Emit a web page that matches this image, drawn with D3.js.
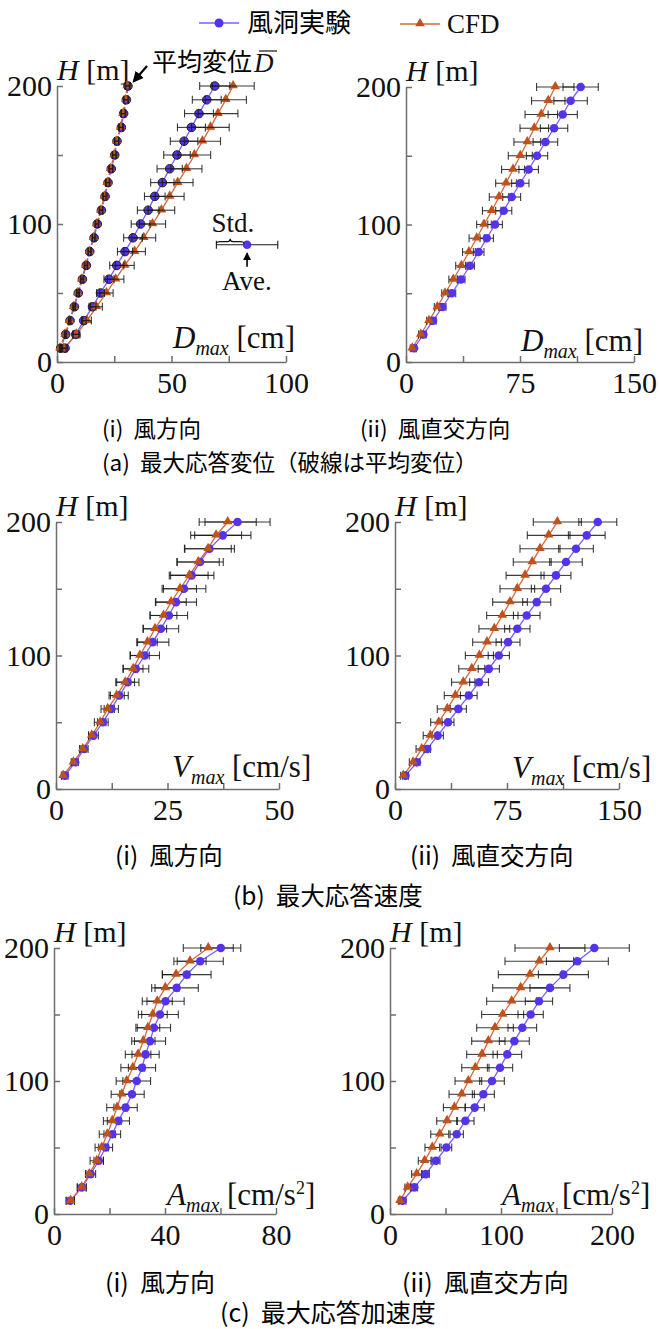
<!DOCTYPE html>
<html>
<head>
<meta charset="utf-8">
<script src="https://cdn.jsdelivr.net/npm/d3@7/dist/d3.min.js"></script>
<style>
  body { margin: 0; background: #fff; }
  svg { display: block; }
</style>
</head>
<body>
<svg id="chart" width="660" height="1329"></svg>
<script>
// heights [m]
const heights = [10, 20, 30, 40, 50, 60, 70, 80, 90, 100, 110, 120, 130, 140, 150, 160, 170, 180, 190, 200];

// (a)(i) along-wind displacement [cm]
const dispAlongMaxWind    = [3.5, 8.2, 11.7, 15.5, 19.0, 22.7, 26.1, 29.7, 33.2, 36.5, 39.8, 42.7, 46.0, 49.2, 52.4, 55.5, 58.7, 62.0, 65.4, 68.9];
const dispAlongMaxWindSd  = [1.0, 1.3, 1.0, 1.5, 1.7, 2.2, 3.1, 3.3, 4.1, 4.1, 4.7, 4.5, 5.1, 5.5, 5.8, 6.0, 6.1, 6.3, 6.3, 6.6];
const dispAlongMaxCfd     = [3.0, 8.5, 13.1, 17.2, 21.6, 25.6, 29.6, 33.9, 37.9, 41.7, 45.6, 49.2, 52.7, 56.5, 60.0, 63.5, 67.0, 70.3, 73.7, 76.9];
const dispAlongMaxCfdSd   = [1.0, 1.5, 1.9, 2.6, 2.9, 3.6, 4.1, 4.7, 5.2, 5.7, 5.8, 6.3, 6.7, 6.8, 7.1, 7.9, 8.2, 8.7, 9.0, 9.2];
const dispAlongMeanWind   = [1.6, 3.8, 5.7, 7.6, 9.3, 11.1, 12.8, 14.3, 16.2, 17.6, 19.4, 21.0, 22.3, 23.7, 25.2, 26.2, 28.1, 29.1, 30.3, 31.0];
const dispAlongMeanWindSd = [0.3, 0.4, 0.4, 0.5, 0.5, 0.6, 0.6, 0.6, 0.7, 0.7, 0.7, 0.8, 0.8, 0.8, 0.9, 0.9, 0.9, 1.0, 1.0, 1.0];
const dispAlongMeanCfd    = [1.3, 3.5, 5.4, 7.3, 9.0, 10.8, 12.5, 14.1, 15.9, 17.3, 19.1, 20.7, 22.0, 23.4, 24.9, 26.0, 27.8, 28.8, 30.0, 30.6];
const dispAlongMeanCfdSd  = [0.3, 0.3, 0.4, 0.4, 0.5, 0.5, 0.6, 0.6, 0.6, 0.7, 0.7, 0.7, 0.8, 0.8, 0.8, 0.9, 0.9, 0.9, 1.0, 1.0];

// (a)(ii) across-wind displacement [cm]
const dispAcrossWind   = [5.3, 11.4, 17.8, 23.9, 30.1, 36.2, 42.1, 47.8, 53.1, 58.6, 64.3, 69.5, 75.2, 80.7, 86.2, 91.7, 97.4, 103.1, 108.3, 114.9];
const dispAcrossWindSd = [1.5, 1.8, 2.0, 2.4, 2.6, 2.6, 2.9, 3.5, 4.4, 4.8, 5.3, 5.9, 5.7, 6.4, 7.0, 8.1, 9.0, 9.6, 11.0, 11.6];
const dispAcrossCfd    = [4.1, 9.7, 15.1, 20.6, 25.7, 31.1, 36.4, 41.4, 46.5, 51.3, 56.4, 61.2, 65.8, 70.4, 75.2, 79.8, 84.4, 89.0, 93.6, 98.2];
const dispAcrossCfdSd  = [1.3, 1.5, 1.5, 2.0, 2.2, 2.9, 3.7, 4.2, 5.0, 4.8, 6.1, 6.4, 6.8, 7.5, 7.9, 8.8, 9.4, 10.7, 11.0, 12.3];

// (b)(i) along-wind velocity [cm/s]
const velAlongWind   = [2.0, 4.3, 6.3, 8.4, 10.5, 12.4, 14.2, 16.1, 17.9, 19.9, 21.7, 23.5, 25.3, 26.9, 28.7, 30.4, 32.3, 34.4, 37.4, 40.7];
const velAlongWindSd = [0.7, 0.7, 0.9, 1.1, 1.2, 1.6, 2.0, 2.5, 2.9, 3.3, 3.6, 4.0, 4.2, 4.6, 4.9, 5.0, 5.2, 5.6, 6.3, 7.3];
const velAlongCfd    = [1.6, 3.9, 6.0, 8.0, 9.9, 11.6, 13.6, 15.5, 17.3, 18.8, 20.5, 22.2, 24.1, 25.8, 27.8, 29.9, 31.9, 34.1, 35.9, 38.5];
const velAlongCfdSd  = [0.4, 0.5, 0.7, 0.7, 1.3, 1.5, 1.7, 2.1, 2.2, 2.1, 2.2, 2.6, 3.0, 3.4, 3.7, 4.2, 4.7, 5.2, 5.7, 6.4];

// (b)(ii) across-wind velocity [cm/s]
const velAcrossWind   = [7.0, 14.7, 21.6, 28.6, 35.5, 42.4, 49.4, 56.3, 62.8, 69.5, 75.7, 81.9, 88.2, 94.9, 101.1, 107.8, 114.5, 121.2, 128.4, 135.8];
const velAcrossWindSd = [2.0, 2.0, 2.2, 3.8, 4.0, 5.4, 5.6, 6.3, 7.1, 7.1, 8.0, 8.5, 8.9, 9.4, 9.8, 10.0, 10.9, 11.6, 12.3, 12.7];
const velAcrossCfd    = [5.6, 12.1, 17.9, 23.6, 29.3, 35.0, 40.4, 45.7, 51.4, 56.5, 61.6, 66.5, 71.9, 77.0, 81.9, 87.1, 91.9, 97.1, 102.9, 108.7];
const velAcrossCfdSd  = [1.8, 2.5, 3.8, 4.7, 5.4, 6.7, 7.4, 7.8, 8.7, 9.4, 9.6, 10.3, 10.5, 11.6, 11.6, 12.7, 12.7, 13.4, 14.3, 16.1];

// (c)(i) along-wind acceleration [cm/s2]
const accAlongWind   = [5.8, 10.0, 13.2, 16.1, 18.6, 21.0, 23.2, 25.8, 28.1, 29.8, 31.7, 33.0, 34.6, 36.0, 38.2, 40.2, 44.2, 47.8, 52.7, 60.1];
const accAlongWindSd = [1.5, 1.6, 1.8, 1.7, 2.5, 3.0, 4.0, 4.2, 4.4, 5.0, 4.9, 4.9, 5.6, 6.0, 6.6, 6.7, 7.8, 8.8, 8.3, 7.2];
const accAlongCfd    = [6.0, 10.0, 12.7, 15.4, 17.2, 19.2, 21.0, 22.7, 24.4, 26.2, 28.4, 30.3, 32.2, 33.8, 35.6, 37.2, 40.1, 44.0, 49.0, 55.6];
const accAlongCfdSd  = [1.4, 1.6, 1.2, 2.4, 2.4, 2.9, 3.2, 3.7, 3.8, 3.8, 4.3, 4.6, 4.2, 4.3, 5.2, 5.4, 4.9, 4.9, 5.8, 9.0];

// (c)(ii) across-wind acceleration [cm/s2]
const accAcrossWind   = [11.4, 21.9, 32.1, 41.4, 50.8, 60.1, 67.9, 76.3, 84.1, 91.9, 99.1, 105.7, 112.0, 119.2, 126.7, 134.2, 144.1, 156.2, 168.8, 184.1];
const accAcrossWindSd = [3.0, 2.7, 3.3, 3.6, 4.8, 6.0, 7.8, 8.7, 9.9, 11.1, 11.4, 12.9, 13.5, 12.9, 11.4, 12.3, 18.0, 22.5, 27.9, 31.5];
const accAcrossCfd    = [9.0, 15.9, 24.0, 31.2, 38.1, 44.8, 51.4, 58.0, 64.6, 70.6, 76.9, 82.9, 88.6, 94.6, 101.5, 109.6, 117.7, 126.1, 134.5, 144.1];
const accAcrossCfdSd  = [1.5, 2.5, 4.5, 5.7, 6.6, 8.1, 9.3, 9.9, 11.4, 12.0, 12.3, 13.8, 15.0, 16.5, 18.9, 22.5, 25.2, 28.5, 30.9, 31.5];

const legendNames = ['風洞実験', 'CFD'];
const subCaptions = ['(i)  風方向', '(ii)  風直交方向'];
const rowCaptions = ['(a)  最大応答変位（破線は平均変位）', '(b)  最大応答速度', '(c)  最大応答加速度'];

const BLUE = '#5533ea', BLUE_LINE = '#7b5cff';
const RED = '#c0501c', RED_LINE = '#d2693a';
const SERIF = '"Liberation Serif", "Times New Roman", serif';
const SANS = '"Noto Sans CJK JP", "Noto Sans", sans-serif';

const svg = d3.select('#chart');

const defs = svg.append('defs');
defs.append('marker')
  .attr('id', 'arrow')
  .attr('viewBox', '0 0 10 10')
  .attr('refX', 8).attr('refY', 5)
  .attr('markerWidth', 5).attr('markerHeight', 5)
  .attr('orient', 'auto')
  .append('path').attr('d', 'M0,0 L10,5 L0,10 Z').attr('fill', '#000');

const ser = (val, sd, kind, dashed) => ({ val, sd, kind, dashed: !!dashed });

const panels = [
  { xMax: 100, box: [57, 286, 362, 86], sym: 'D', unit: 'cm', lab: [173, 348], barsOnTop: true,
    series: [ser(dispAlongMeanWind, dispAlongMeanWindSd, 'wind', true), ser(dispAlongMeanCfd, dispAlongMeanCfdSd, 'cfd', true),
             ser(dispAlongMaxWind, dispAlongMaxWindSd, 'wind'), ser(dispAlongMaxCfd, dispAlongMaxCfdSd, 'cfd')] },
  { xMax: 150, box: [406, 634, 362, 87], sym: 'D', unit: 'cm', lab: [521, 351],
    series: [ser(dispAcrossWind, dispAcrossWindSd, 'wind'), ser(dispAcrossCfd, dispAcrossCfdSd, 'cfd')] },
  { xMax: 50, box: [56, 279, 789, 522], sym: 'V', unit: 'cm/s', lab: [172, 777],
    series: [ser(velAlongWind, velAlongWindSd, 'wind'), ser(velAlongCfd, velAlongCfdSd, 'cfd')] },
  { xMax: 150, box: [395, 619, 789, 522], sym: 'V', unit: 'cm/s', lab: [512, 778],
    series: [ser(velAcrossWind, velAcrossWindSd, 'wind'), ser(velAcrossCfd, velAcrossCfdSd, 'cfd')] },
  { xMax: 80, box: [54, 276, 1214, 948], sym: 'A', unit: 'cm/s', sq: true, lab: [167, 1205],
    series: [ser(accAlongWind, accAlongWindSd, 'wind'), ser(accAlongCfd, accAlongCfdSd, 'cfd')] },
  { xMax: 200, box: [390, 612, 1214, 948], sym: 'A', unit: 'cm/s', sq: true, lab: [502, 1205],
    series: [ser(accAcrossWind, accAcrossWindSd, 'wind'), ser(accAcrossCfd, accAcrossCfdSd, 'cfd')] }
];

function styleAxis(ax) {
  ax.selectAll('path, line').attr('stroke', '#6e6e6e').attr('stroke-width', 1.5);
  ax.selectAll('text').attr('font-family', SERIF).attr('font-size', 30).attr('fill', '#111');
}

function drawPanel(p) {
  const x = d3.scaleLinear().domain([0, p.xMax]).range([p.box[0], p.box[1]]);
  const y = d3.scaleLinear().domain([0, 200]).range([p.box[2], p.box[3]]);
  const g = svg.append('g');

  const xt = d3.range(0, 5).map(i => p.xMax * i / 4);
  const xAxis = d3.axisBottom(x).tickValues(xt).tickSizeInner(-6).tickSizeOuter(0).tickPadding(10)
    .tickFormat((d, i) => i % 2 === 0 ? d : '');
  g.append('g').attr('transform', `translate(0,${p.box[2]})`).call(xAxis).call(styleAxis);

  const yAxis = d3.axisLeft(y).tickValues([0, 50, 100, 150, 200]).tickSizeInner(-6).tickSizeOuter(0).tickPadding(5)
    .tickFormat(d => d % 100 === 0 ? d : '');
  g.append('g').attr('transform', `translate(${p.box[0]},0)`).call(yAxis).call(styleAxis);
  g.selectAll('.domain').attr('fill', 'none');

  // H [m]
  const ht = g.append('text').attr('x', p.box[0]).attr('y', y(200) - 6)
    .attr('font-family', SERIF).attr('font-size', 30).attr('fill', '#111');
  ht.append('tspan').attr('font-style', 'italic').text('H');
  ht.append('tspan').text(' [m]');

  // x label
  const lt = g.append('text').attr('x', p.lab[0]).attr('y', p.lab[1])
    .attr('font-family', SERIF).attr('font-size', 31).attr('fill', '#111');
  lt.append('tspan').attr('font-style', 'italic').text(p.sym);
  lt.append('tspan').attr('font-style', 'italic').attr('font-size', 20).attr('dy', 7).text('max');
  lt.append('tspan').attr('dy', -7).text(' [' + p.unit);
  if (p.sq) {
    lt.append('tspan').attr('font-size', 18).attr('dy', -11).text('2');
    lt.append('tspan').attr('dy', 11).text(']');
  } else {
    lt.append('tspan').text(']');
  }

  const rows = s => heights.map((h, i) => ({ h, v: s.val[i], sd: s.sd[i] }));
  const line = d3.line().x(d => x(d.v)).y(d => y(d.h));

  // lines
  p.series.forEach(s => {
    g.append('path').datum(rows(s))
      .attr('fill', 'none')
      .attr('stroke', s.kind === 'wind' ? BLUE_LINE : RED_LINE)
      .attr('stroke-width', 1.3)
      .attr('stroke-dasharray', s.dashed ? '4,2' : null)
      .attr('d', line);
  });

  const drawBars = () => {
    p.series.forEach(s => {
      const eb = g.append('g').attr('stroke', '#1a1a1a').attr('stroke-width', 1.1).attr('stroke-opacity', 0.85)
        .selectAll('g').data(rows(s)).join('g');
      eb.append('line')
        .attr('x1', d => x(d.v - d.sd)).attr('x2', d => x(d.v + d.sd))
        .attr('y1', d => y(d.h)).attr('y2', d => y(d.h));
      eb.append('line')
        .attr('x1', d => x(d.v - d.sd)).attr('x2', d => x(d.v - d.sd))
        .attr('y1', d => y(d.h) - 4).attr('y2', d => y(d.h) + 4);
      eb.append('line')
        .attr('x1', d => x(d.v + d.sd)).attr('x2', d => x(d.v + d.sd))
        .attr('y1', d => y(d.h) - 4).attr('y2', d => y(d.h) + 4);
    });
  };

  const drawMarks = () => {
    p.series.forEach(s => {
      if (s.kind === 'wind') {
        g.append('g').selectAll('circle').data(rows(s)).join('circle')
          .attr('cx', d => x(d.v)).attr('cy', d => y(d.h)).attr('r', 4.3)
          .attr('fill', BLUE)
          .attr('stroke', p.barsOnTop ? '#222' : 'none').attr('stroke-width', 1);
      } else {
        g.append('g').selectAll('path').data(rows(s)).join('path')
          .attr('transform', d => `translate(${x(d.v)},${y(d.h) - 0.5})`)
          .attr('d', d3.symbol(d3.symbolTriangle, 40))
          .attr('fill', RED);
      }
    });
  };

  if (p.barsOnTop) { drawMarks(); drawBars(); } else { drawBars(); drawMarks(); }

  return { x, y, g };
}

const drawn = panels.map(drawPanel);

// annotations in (a)(i)
{
  const { x, y, g } = drawn[0];
  const top = dispAlongMeanWind[dispAlongMeanWind.length - 1];
  g.append('line')
    .attr('x1', x(top) + 19).attr('y1', y(200) - 20)
    .attr('x2', x(top) + 6).attr('y2', y(200) - 5)
    .attr('stroke', '#000').attr('stroke-width', 2.2)
    .attr('marker-end', 'url(#arrow)');
  g.append('text').attr('x', 152).attr('y', 71)
    .attr('font-family', SANS).attr('font-size', 25).attr('fill', '#000').text('平均変位');
  g.append('text').attr('x', 254).attr('y', 72)
    .attr('font-family', SERIF).attr('font-style', 'italic').attr('font-size', 27).attr('fill', '#111').text('D');
  g.append('line').attr('x1', 259).attr('x2', 277).attr('y1', 51).attr('y2', 51)
    .attr('stroke', '#111').attr('stroke-width', 1.2);

  // Std. / Ave. explanation
  const ave = 83, sd = 13.4, hh = 85;
  const cy = y(hh);
  const eb = g.append('g').attr('stroke', '#1a1a1a').attr('stroke-width', 1.1);
  eb.append('line').attr('x1', x(ave - sd)).attr('x2', x(ave + sd)).attr('y1', cy).attr('y2', cy);
  eb.append('line').attr('x1', x(ave - sd)).attr('x2', x(ave - sd)).attr('y1', cy - 4).attr('y2', cy + 4);
  eb.append('line').attr('x1', x(ave + sd)).attr('x2', x(ave + sd)).attr('y1', cy - 4).attr('y2', cy + 4);
  g.append('circle').attr('cx', x(ave)).attr('cy', cy).attr('r', 4.3).attr('fill', BLUE);
  const bx0 = x(ave - sd), bx1 = x(ave) - 3, bm = (bx0 + bx1) / 2, by = cy - 3;
  g.append('path')
    .attr('d', `M${bx0},${by + 2} Q${bx0},${by} ${bx0 + 4},${by} L${bm - 3},${by} Q${bm},${by} ${bm},${by - 3} Q${bm},${by} ${bm + 3},${by} L${bx1 - 4},${by} Q${bx1},${by} ${bx1},${by + 2}`)
    .attr('fill', 'none').attr('stroke', '#111').attr('stroke-width', 1.2);
  g.append('text').attr('x', bx0 - 5).attr('y', cy - 13)
    .attr('font-family', SERIF).attr('font-size', 27).attr('fill', '#111').text('Std.');
  g.append('line').attr('x1', x(ave)).attr('x2', x(ave)).attr('y1', cy + 22).attr('y2', cy + 9)
    .attr('stroke', '#000').attr('stroke-width', 1.6).attr('marker-end', 'url(#arrow)');
  g.append('text').attr('x', x(ave) - 25).attr('y', cy + 45)
    .attr('font-family', SERIF).attr('font-size', 27).attr('fill', '#111').text('Ave.');
}

// legend
{
  const lg = svg.append('g');
  lg.append('line').attr('x1', 199).attr('x2', 239).attr('y1', 23).attr('y2', 23).attr('stroke', BLUE_LINE).attr('stroke-width', 1.3);
  lg.append('circle').attr('cx', 219).attr('cy', 23).attr('r', 4.5).attr('fill', BLUE);
  lg.append('text').attr('x', 247).attr('y', 32).attr('font-family', SANS).attr('font-size', 26).attr('fill', '#000').text(legendNames[0]);
  lg.append('line').attr('x1', 400).attr('x2', 440).attr('y1', 24).attr('y2', 24).attr('stroke', RED_LINE).attr('stroke-width', 1.3);
  lg.append('path').attr('transform', 'translate(420,23.5)').attr('d', d3.symbol(d3.symbolTriangle, 40)).attr('fill', RED);
  lg.append('text').attr('x', 447).attr('y', 33).attr('font-family', SERIF).attr('font-size', 27).attr('fill', '#111').text(legendNames[1]);
}

// captions (each row was scaled slightly differently in the original figure)
const capPos = [
  { size: 22.5, i: 102, ii: 360, y: 437, row: 102, ry: 471 },
  { size: 24.5, i: 115, ii: 410, y: 865, row: 233, ry: 905 },
  { size: 25, i: 105, ii: 402, y: 1292, row: 220, ry: 1322 }
];
capPos.forEach((c, r) => {
  const cg = svg.append('g').attr('font-family', SANS).attr('font-size', c.size).attr('fill', '#000');
  cg.append('text').attr('x', c.i).attr('y', c.y).attr('xml:space', 'preserve').text(subCaptions[0]);
  cg.append('text').attr('x', c.ii).attr('y', c.y).attr('xml:space', 'preserve').text(subCaptions[1]);
  cg.append('text').attr('x', c.row).attr('y', c.ry).attr('xml:space', 'preserve').text(rowCaptions[r]);
});
</script>
</body>
</html>
